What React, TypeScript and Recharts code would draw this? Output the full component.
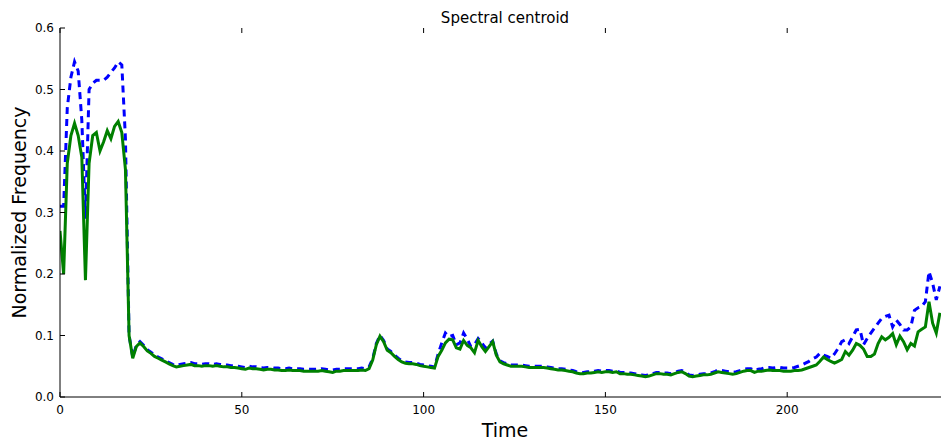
import React from "react";
import { LineChart, Line, XAxis, YAxis } from "recharts";

const greenValues: number[] = [
  0.27, 0.2, 0.38, 0.425, 0.445, 0.425, 0.39, 0.19, 0.38, 0.425,
  0.43, 0.4, 0.415, 0.433, 0.42, 0.44, 0.448, 0.43, 0.37, 0.1,
  0.063, 0.082, 0.088, 0.082, 0.075, 0.071, 0.066, 0.063, 0.06, 0.057,
  0.054, 0.051, 0.049, 0.05, 0.051, 0.052, 0.053, 0.051, 0.051, 0.05,
  0.051, 0.051, 0.05, 0.051, 0.05, 0.049, 0.049, 0.048, 0.048, 0.047,
  0.046, 0.045, 0.047, 0.046, 0.046, 0.045, 0.044, 0.045, 0.045, 0.044,
  0.044, 0.043, 0.043, 0.044, 0.043, 0.043, 0.043, 0.042, 0.042, 0.042,
  0.042, 0.042, 0.043, 0.042, 0.041, 0.04, 0.042, 0.042, 0.043, 0.043,
  0.043, 0.043, 0.043, 0.044, 0.043, 0.046, 0.06, 0.085, 0.099, 0.09,
  0.076, 0.072, 0.066, 0.061, 0.057, 0.055, 0.054, 0.054, 0.053, 0.051,
  0.05, 0.049, 0.048, 0.047, 0.066, 0.076, 0.088, 0.094, 0.093, 0.08,
  0.078, 0.092, 0.084, 0.08, 0.072, 0.092, 0.082, 0.074, 0.082, 0.09,
  0.068, 0.057, 0.054, 0.052, 0.05, 0.05, 0.05, 0.05, 0.049, 0.048,
  0.048, 0.048, 0.048, 0.048, 0.047, 0.046, 0.045, 0.044, 0.044, 0.043,
  0.042, 0.041, 0.039, 0.038, 0.038, 0.039, 0.039, 0.04, 0.041, 0.04,
  0.041, 0.041, 0.04, 0.041, 0.038, 0.038, 0.037, 0.037, 0.036, 0.035,
  0.034, 0.033, 0.034, 0.036, 0.038, 0.038, 0.037, 0.037, 0.036, 0.038,
  0.04, 0.041, 0.038, 0.034, 0.033, 0.034, 0.035, 0.036, 0.036, 0.037,
  0.039, 0.041, 0.04, 0.039, 0.038, 0.037, 0.038, 0.04, 0.042, 0.043,
  0.043, 0.04, 0.042, 0.042, 0.043, 0.044, 0.043, 0.043, 0.043, 0.042,
  0.042, 0.042, 0.043, 0.043, 0.044, 0.046, 0.048, 0.05, 0.052, 0.058,
  0.065, 0.061, 0.058, 0.055, 0.058, 0.061, 0.074, 0.068, 0.076, 0.087,
  0.084, 0.078, 0.066, 0.066, 0.07, 0.087, 0.098, 0.093, 0.097, 0.103,
  0.085, 0.099, 0.09, 0.077, 0.087, 0.083, 0.106, 0.11, 0.114, 0.155,
  0.12, 0.104, 0.137,
];

const blueValues: number[] = [
  0.31, 0.31, 0.47, 0.52, 0.545, 0.53, 0.45, 0.29, 0.5, 0.51,
  0.515, 0.515, 0.515, 0.52, 0.528, 0.535, 0.545, 0.54, 0.42, 0.1,
  0.065, 0.084, 0.09, 0.084, 0.077, 0.073, 0.068, 0.065, 0.062, 0.059,
  0.056, 0.053, 0.051, 0.053, 0.054, 0.055, 0.056, 0.054, 0.054, 0.053,
  0.054, 0.054, 0.053, 0.054, 0.053, 0.052, 0.052, 0.051, 0.051, 0.05,
  0.049, 0.048, 0.05, 0.049, 0.049, 0.048, 0.047, 0.048, 0.048, 0.047,
  0.047, 0.046, 0.046, 0.047, 0.046, 0.046, 0.046, 0.045, 0.045, 0.045,
  0.045, 0.045, 0.046, 0.045, 0.044, 0.044, 0.045, 0.045, 0.046, 0.046,
  0.046, 0.046, 0.046, 0.047, 0.046, 0.049, 0.062, 0.087, 0.1, 0.092,
  0.078, 0.074, 0.068, 0.063, 0.059, 0.057, 0.056, 0.056, 0.055, 0.053,
  0.052, 0.051, 0.05, 0.049, 0.07, 0.088, 0.104, 0.098, 0.1, 0.085,
  0.088, 0.104, 0.094, 0.082, 0.085, 0.095, 0.088, 0.08, 0.086, 0.091,
  0.07, 0.059, 0.056, 0.054, 0.052, 0.052, 0.052, 0.052, 0.051, 0.05,
  0.05, 0.05, 0.05, 0.05, 0.049, 0.048, 0.047, 0.046, 0.046, 0.045,
  0.044, 0.043, 0.041, 0.04, 0.04, 0.041, 0.041, 0.042, 0.043, 0.042,
  0.043, 0.043, 0.042, 0.043, 0.04, 0.04, 0.039, 0.039, 0.038, 0.037,
  0.036, 0.035, 0.036, 0.038, 0.04, 0.04, 0.039, 0.039, 0.038, 0.04,
  0.042, 0.043, 0.04, 0.036, 0.035, 0.036, 0.037, 0.038, 0.038, 0.039,
  0.041, 0.044, 0.043, 0.042, 0.041, 0.04, 0.041, 0.043, 0.045, 0.046,
  0.046, 0.043, 0.045, 0.046, 0.048, 0.048, 0.047, 0.048, 0.048, 0.047,
  0.047, 0.047, 0.048, 0.05, 0.052, 0.055, 0.058, 0.062, 0.065, 0.071,
  0.068, 0.066, 0.063, 0.07, 0.079, 0.09, 0.093, 0.087, 0.098, 0.109,
  0.11, 0.085, 0.095, 0.104, 0.112, 0.12, 0.128, 0.131, 0.133, 0.114,
  0.125, 0.118, 0.109, 0.109, 0.114, 0.141, 0.145, 0.147, 0.155, 0.204,
  0.185, 0.158, 0.18,
];

const xTicks: number[] = [0, 50, 100, 150, 200];
const yTicks: number[] = [0, 0.1, 0.2, 0.3, 0.4, 0.5, 0.6];

const data = greenValues.map((g, i) => ({ t: i, green: g, blue: blueValues[i] }));

const W = 941;
const H = 441;
const PLOT_LEFT = 60;
const PLOT_RIGHT = 941;
const PLOT_TOP = 28;
const PLOT_BOTTOM = 397;
const TEXT_CENTER = 505;
const FONT = "'DejaVu Sans', sans-serif";

const XTick = (props: any) => {
  const { x, payload } = props;
  return (
    <g>
      <line x1={x} x2={x} y1={PLOT_BOTTOM} y2={PLOT_BOTTOM - 5} stroke="#000" strokeWidth={1} />
      <line x1={x} x2={x} y1={PLOT_TOP} y2={PLOT_TOP + 5} stroke="#000" strokeWidth={1} />
      <text x={x} y={PLOT_BOTTOM + 17} textAnchor="middle" fontSize={12} fontFamily={FONT} fill="#000">
        {payload.value}
      </text>
    </g>
  );
};

const YTick = (props: any) => {
  const { y, payload } = props;
  return (
    <g>
      <line x1={PLOT_LEFT} x2={PLOT_LEFT + 5} y1={y} y2={y} stroke="#000" strokeWidth={1} />
      <text x={PLOT_LEFT - 6} y={y + 4} textAnchor="end" fontSize={12} fontFamily={FONT} fill="#000">
        {Number(payload.value).toFixed(1)}
      </text>
    </g>
  );
};

export default function App() {
  return (
    <div style={{ position: "absolute", left: 0, top: 0, width: W, height: H, background: "#fff" }}>
      <LineChart
        width={W}
        height={H}
        data={data}
        margin={{ top: PLOT_TOP, right: W - PLOT_RIGHT, bottom: 0, left: 0 }}
      >
        <XAxis
          dataKey="t"
          type="number"
          domain={[0, 242.3]}
          ticks={xTicks}
          allowDataOverflow
          height={H - PLOT_BOTTOM}
          axisLine={{ stroke: "#000", strokeWidth: 1 }}
          tickLine={false}
          tick={<XTick />}
          interval={0}
        />
        <XAxis
          xAxisId="top"
          dataKey="t"
          type="number"
          domain={[0, 242.3]}
          orientation="top"
          height={0}
          axisLine={{ stroke: "#000", strokeWidth: 1 }}
          tick={false}
          tickLine={false}
        />
        <YAxis
          type="number"
          domain={[0, 0.6]}
          ticks={yTicks}
          allowDataOverflow
          width={PLOT_LEFT}
          axisLine={{ stroke: "#000", strokeWidth: 1 }}
          tickLine={false}
          tick={<YTick />}
          interval={0}
        />
        <Line
          type="linear"
          dataKey="blue"
          stroke="#0000ff"
          strokeWidth={3}
          strokeDasharray="7 5"
          dot={false}
          activeDot={false}
          isAnimationActive={false}
        />
        <Line
          type="linear"
          dataKey="green"
          stroke="#008000"
          strokeWidth={3}
          dot={false}
          activeDot={false}
          isAnimationActive={false}
        />
        <text x={TEXT_CENTER} y={23} textAnchor="middle" fontSize={15} fontFamily={FONT} fill="#000">
          Spectral centroid
        </text>
        <text x={TEXT_CENTER} y={437} textAnchor="middle" fontSize={19} fontFamily={FONT} fill="#000">
          Time
        </text>
        <text
          x={26}
          y={(PLOT_TOP + PLOT_BOTTOM) / 2}
          textAnchor="middle"
          fontSize={19}
          fontFamily={FONT}
          fill="#000"
          transform={`rotate(-90, 26, ${(PLOT_TOP + PLOT_BOTTOM) / 2})`}
        >
          Normalized Frequency
        </text>
      </LineChart>
    </div>
  );
}
